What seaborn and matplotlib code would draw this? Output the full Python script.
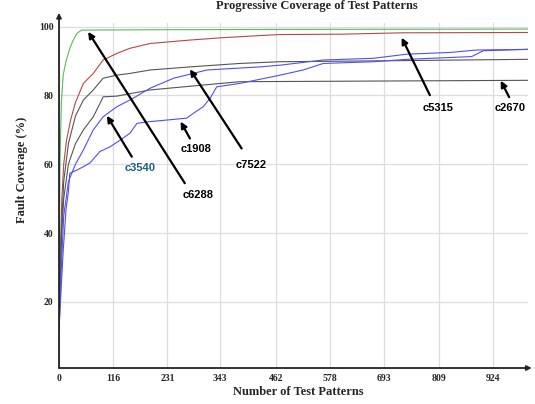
import matplotlib

matplotlib.use("Agg")
import matplotlib.pyplot as plt
import seaborn as sns

# ---- data ----
c6288_x = [0, 2, 5, 9, 15, 23, 30, 38, 48, 60, 200, 500, 1000]
c6288_y = [20, 60, 78, 86, 90, 93.7, 96, 98, 99, 99, 99.1, 99.2, 99.3]

c5315_x = [0, 3, 6, 10, 16, 25, 35, 52, 73, 94, 123, 151, 194, 279, 350, 428, 471, 600, 730, 1000]
c5315_y = [15, 35, 50, 60, 67, 73, 78, 83.5, 86.4, 90.3, 92.2, 93.7, 95.1, 96.1, 96.8, 97.4, 97.7, 97.8, 98.2, 98.3]

c7522_x = [0, 5, 10, 20, 35, 52, 73, 94, 123, 151, 194, 279, 385, 471, 712, 1000]
c7522_y = [12, 40, 55, 66, 74, 78.7, 81.6, 85, 85.9, 86.4, 87.4, 88.3, 89.3, 89.8, 90.1, 90.5]

c2670_x = [0, 5, 10, 20, 35, 52, 73, 91, 94, 123, 194, 265, 385, 700, 1000]
c2670_y = [12, 38, 50, 60, 66, 70, 73.8, 78.7, 79.6, 79.8, 81.6, 82.5, 84, 84.2, 84.4]

c3540_x = [0, 5, 10, 20, 35, 52, 73, 94, 123, 158, 194, 244, 315, 428, 471, 563, 670, 741, 833, 890, 1000]
c3540_y = [12, 30, 45, 55, 60, 64.2, 70, 73.8, 76.7, 79.2, 82.1, 85, 87.4, 88.3, 88.8, 90.3, 90.8, 92, 92.5, 93.2, 93.4]

c1908_x = [0, 5, 9, 15, 20, 23, 38, 52, 66, 87, 109, 130, 151, 166, 194, 272, 286, 307, 322, 336,
           385, 428, 471, 520, 563, 670, 741, 879, 904, 1000]
c1908_y = [12, 25, 35, 47, 52, 57.4, 58.3, 59.3, 60.4, 63.7, 65.1, 67, 69, 71.9, 72.4, 73.4, 74.8, 76.7, 79.2, 82.5,
           83.5, 84.7, 85.9, 87.4, 89.3, 89.8, 90.5, 91.3, 93, 93.4]

x_ticks = [0, 116, 231, 343, 462, 578, 693, 809, 924]
y_ticks = [20, 40, 60, 80, 100]

series = [
    ("c6288", c6288_x, c6288_y, "#5cb85c"),
    ("c5315", c5315_x, c5315_y, "#b04a4a"),
    ("c7522", c7522_x, c7522_y, "#555555"),
    ("c2670", c2670_x, c2670_y, "#555555"),
    ("c3540", c3540_x, c3540_y, "#5050f0"),
    ("c1908", c1908_x, c1908_y, "#5050f0"),
]

# label, text position, arrow tail, arrow tip (data coords), text colour
labels = [
    ("c6288", (297, 51.1), (268, 54.5), (62, 98.5), "black"),
    ("c5315", (808, 76.4), (790, 80.1), (730, 96.8), "black"),
    ("c2670", (961, 76.4), (959, 79.5), (941, 84.3), "black"),
    ("c7522", (410, 59.8), (389, 64.6), (279, 87.6), "black"),
    ("c1908", (293, 64.4), (279, 67.5), (259, 72.4), "black"),
    ("c3540", (173, 58.8), (155, 62.2), (102, 74.1), "#1f6080"),
]

sns.set_style("white")
serif = ["Liberation Serif", "DejaVu Serif"]
sans = ["Liberation Sans", "DejaVu Sans"]

fig = plt.figure(figsize=(5.35, 4.04), dpi=100)
ax = fig.add_axes([0.1103, 0.0891, 0.8774, 0.8535])

for name, xs, ys, col in series:
    sns.lineplot(x=xs, y=ys, ax=ax, color=col, lw=0.8, estimator=None, sort=False)

ax.set_xlim(0, 1000)
ax.set_ylim(0.8, 101)
ax.set_xticks(x_ticks)
ax.set_yticks(y_ticks)
ax.set_xticklabels([str(t) for t in x_ticks], family=serif, weight="bold", fontsize=7)
ax.set_yticklabels([str(t) for t in y_ticks], family=serif, weight="bold", fontsize=7)
ax.tick_params(length=0, pad=4)
ax.grid(True, color="#dddddd", lw=0.9)
ax.set_axisbelow(True)
for s in ax.spines.values():
    s.set_visible(False)

# axes with arrow heads
ax.annotate("", xy=(0, 1.03), xytext=(0, 0), xycoords="axes fraction",
            arrowprops=dict(arrowstyle="-|>", color="#222222", lw=1.3, mutation_scale=7,
                            shrinkA=0, shrinkB=0), annotation_clip=False)
ax.annotate("", xy=(1.007, 0), xytext=(0, 0), xycoords="axes fraction",
            arrowprops=dict(arrowstyle="-|>", color="#222222", lw=1.3, mutation_scale=7,
                            shrinkA=0, shrinkB=0), annotation_clip=False)

for name, txt_pos, tail, tip, tcol in labels:
    ax.annotate("", xy=tip, xytext=tail,
                arrowprops=dict(arrowstyle="-|>", color="black", lw=1.6, mutation_scale=9,
                                shrinkA=0, shrinkB=0))
    ax.text(txt_pos[0], txt_pos[1], name, ha="center", va="center", color=tcol,
            family=sans, weight="bold", fontsize=8)

fig.text(317 / 535, 1 - 6 / 404, "Progressive Coverage of Test Patterns", ha="center", va="center",
         family=serif, weight="bold", fontsize=9)
fig.text(298 / 535, 1 - 392 / 404, "Number of Test Patterns", ha="center", va="center",
         family=serif, weight="bold", fontsize=9)
fig.text(22 / 535, 1 - 170 / 404, "Fault Coverage (%)", ha="center", va="center", rotation=90,
         family=serif, weight="bold", fontsize=9)

fig.savefig("out.png", dpi=100)
